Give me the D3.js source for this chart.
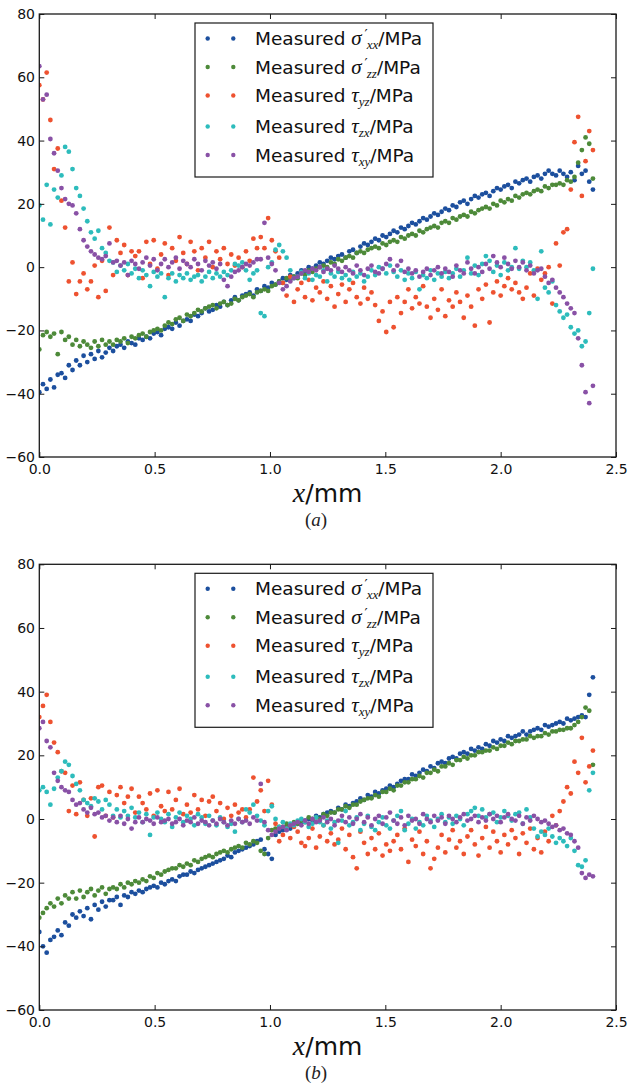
<!DOCTYPE html>
<html><head><meta charset="utf-8">
<script src="https://cdn.jsdelivr.net/npm/d3@7"></script>
<style>body{margin:0;background:#fff;} svg{display:block;}</style>
</head><body>
<svg id="chart" width="628" height="1088"></svg>
<script>
// Sample positions along x (mm)
const positions = [
0,0.016,0.032,0.048,0.064,0.08,0.096,0.112,0.128,0.144,
0.16,0.176,0.192,0.208,0.224,0.24,0.256,0.272,0.288,0.304,
0.32,0.336,0.352,0.368,0.384,0.4,0.416,0.432,0.448,0.464,
0.48,0.496,0.512,0.528,0.544,0.56,0.576,0.592,0.608,0.624,
0.64,0.656,0.672,0.688,0.704,0.72,0.736,0.752,0.768,0.784,
0.8,0.816,0.832,0.848,0.864,0.88,0.896,0.912,0.928,0.944,
0.96,0.976,0.992,1.008,1.024,1.04,1.056,1.072,1.088,1.104,
1.12,1.136,1.152,1.168,1.184,1.2,1.216,1.232,1.248,1.264,
1.28,1.296,1.312,1.328,1.344,1.36,1.376,1.392,1.408,1.424,
1.44,1.456,1.472,1.488,1.504,1.52,1.536,1.552,1.568,1.584,
1.6,1.616,1.632,1.648,1.664,1.68,1.696,1.712,1.728,1.744,
1.76,1.776,1.792,1.808,1.824,1.84,1.856,1.872,1.888,1.904,
1.92,1.936,1.952,1.968,1.984,2.0,2.016,2.032,2.048,2.064,
2.08,2.096,2.112,2.128,2.144,2.16,2.176,2.192,2.208,2.224,
2.24,2.256,2.272,2.288,2.304,2.32,2.336,2.352,2.368,2.384,
2.4];

// ---- Panel (a) ----
const A_sxx = [
-39.5,-37,-38.5,-35.5,-38,-34,-33.5,-35,-31,-32.5,
-29.5,-31,-28,-30,-27.5,-29,-26.5,-28.5,-27,-25.5,
-26.5,-25,-24.5,-25.5,-23.5,-24,-24.5,-22.5,-23,-22,
-22.5,-21,-20.5,-21.5,-19.5,-19,-19.5,-17.5,-18.5,-17,
-16.5,-17,-15,-15.5,-14.5,-13,-14,-13.5,-12,-12.5,
-11,-12,-10.5,-9.5,-10.5,-9,-8.5,-8,-9,-7,
-7.5,-6,-6.5,-5,-5.5,-4.5,-3.5,-4,-2.5,-3,
-2,-1,-1.5,0,-0.5,0.5,1.5,1,2,3,
2.5,3.5,4,3,5,5.5,4.5,6.5,7.5,7,
8,9,8.5,10,9.5,10.5,11.5,11,12.5,12,
13,14,13.5,14.5,15.5,15,16,17,16.5,17.5,
18.5,18,19.5,19,20.5,21,20,21.5,22.5,22,
23,23.5,22.5,24,25,24.5,25.5,26,25,27,
26.5,27.5,28,27,28.5,29,28,29.5,30.5,29.5,
29,30.5,29.5,28.5,30,27.5,32,29.5,30.5,27,
24.5];
const A_szz = [
-26,-21.5,-20.5,-22,-21,-27.5,-20.5,-23,-22,-24.5,
-23,-25,-23.5,-24.5,-25.5,-23.5,-25,-23,-24.5,-23.5,
-24.5,-23,-23.5,-22.5,-24,-22,-22.5,-21.5,-21,-22,
-20.5,-20,-19.5,-20,-18.5,-17.5,-18,-16.5,-16,-17,
-15,-15.5,-14.5,-13.5,-14,-13,-12.5,-12,-13,-11.5,
-11,-12,-11.5,-10,-10.5,-9.5,-9,-8.5,-9.5,-8,
-7.5,-7,-7.5,-6,-5.5,-4.5,-5,-3.5,-4,-3,
-3.5,-2,-2.5,-1,-1.5,-0.5,0,0.5,0,1.5,
1,2.5,2,3,3.5,3,4.5,5,4.5,5.5,
6,6.5,6,7.5,7,8,8.5,8,9.5,9,
10,10.5,10,11.5,11,12,12.5,13,12.5,14,
14.5,14,15.5,15,16,16.5,16,17.5,17,18,
18.5,19,18.5,20,19.5,21,20.5,21.5,21,22.5,
22,23,23.5,23,24,24.5,24,25.5,25,26,
26,26.5,26,27.5,27,28.5,33,37,41,39,
28];
const A_tyz = [
57.5,53,61.5,46.5,31,37.5,21,12.5,-4.5,1.5,
-8.5,-4.5,-2,-7,-4.5,0.5,-9.5,2,-7.5,12.5,
-2.5,8.5,4.5,7,-2.5,5,3.5,5,-3.5,8,
1,8.5,-0.5,4,7.5,-2.5,6,2,9.5,4.5,
1,8,5,-1,6,3,8,0,5,2.5,
6,1,4,0.5,3,0,5,2,9,6,
9.5,6,15.5,8.5,5,3,-5,-9,-3,-11,
-7,-5,-9.5,-4,-10.5,-6.5,-8,-4.5,-10,-6,
-12.5,-8.5,-5.5,-11,-7,-5,-9.5,-11.5,-6.5,-10,
-8,-12,-17,-14,-20.5,-11,-19,-9.5,-14.5,-11,
-7,-13,-9.5,-11.5,-6,-12.5,-16,-10,-13.5,-7,
-15.5,-10.5,-12.5,-8,-11,-16,-9,-12.5,-18.5,-7,
-10,-5.5,-17.5,-8,-4.5,-9,-6,-3.5,-7,-5,
-8,-10,-6.5,-2,-9,-0.5,-4,-2,0,-11.5,
7.5,0.5,11,12,24.5,39.5,47.5,22.5,33.5,43,
37];
const A_tzx = [
19.5,15,26,13.5,24.5,22,29,38,36.5,31,
25,22.5,18.5,14.5,11,9,11.5,6,4.5,2,
1.5,-1.5,0.5,-1,1,-2,-0.5,-3.5,-1,-2.5,
-6,-1.5,-3,-2,-9.5,-3.5,-2,-4.5,-2.5,-3.5,
-2,-4,-3,-2.5,-4.5,-3,-1.5,-3.5,-2,-3,
-1.5,-2.5,-1,1,0.5,1.5,-1,-4,-2,-1,
-14.5,-15.5,0,1.5,5.5,7,5,3,-1,-3.5,
-3,-1.5,-3.5,-2,-4,-2.5,-3,-1,-4.5,-2,
-3,-1.5,-3.5,-2.5,-4,-1.5,-3,-2,-4.5,-3,
-1,-2.5,0,-0.5,-2,0.5,-1.5,-3,-1,-4,
-2,-3.5,-1.5,-7,-2.5,-3.5,-1,-4,-2,-3,
-1.5,-3.5,-2,-0.5,-3,-1,3,-2,0.5,-2.5,
1,3.5,2,-1.5,0.5,-2.5,1.5,-1,0,6,
-0.5,2,0,1.5,-1,-10,5,-6.5,-8,-4.5,
-12,-14,-16,-15,-19,-21,-20,-25,-23.5,-14.5,
-0.5];
const A_txy = [
63.5,53,54.5,40.5,36,30.5,25,21.5,20,19.5,
17,12,8.5,6.5,5,4,3,2.5,3.5,7.5,
1.5,2,0.5,1.5,-2.5,2,1,-0.5,1.5,3,
0.5,2.5,-1,1,2.5,0,1.5,3,-0.5,2,
1,0,2.5,1,-1,2,0.5,1.5,-0.5,1,
-4,-6,-3,-1.5,-1,0,1,0.5,1.5,2.5,
2.5,14,3,1,-1,-5,-7,-6,-4.5,-3.5,
-3,-2,-1,-1.5,-0.5,-1,0,-1.5,-0.5,-1,
0.5,-0.5,-1.5,0,-1,-2,0.5,-1,-2.5,-0.5,
0.5,-1.5,-2,-0.5,1,2.5,-1,0.5,2,-1.5,
-0.5,-2,-1,-3,-1.5,-0.5,-2.5,-1,0,-2,
-0.5,-1.5,-3,0.5,-1,-2,1.5,-0.5,-2,0,
-1.5,1,-0.5,3.5,1.5,0,3,1,-0.5,2,
0,1.5,-1,0.5,-2,-1,-0.5,-3,-5,-4,
-6.5,-8,-9.5,-11.5,-13,-14.5,-22.5,-31,-39.5,-43,
-37.5];

// ---- Panel (b) ----
const B_sxx = [
-35.5,-40,-42,-38,-37,-35,-36.5,-32.5,-33.5,-30,
-31,-29,-30.5,-28,-31.5,-27,-28.5,-26,-27.5,-25.5,
-25.5,-24.5,-27,-24,-24.5,-23,-23.5,-22.5,-23,-22,
-21.5,-21,-21.5,-20,-20.5,-19.5,-19,-19.5,-18,-17.5,
-17.5,-16.5,-17,-16,-15.5,-15,-14.5,-14,-13.5,-13,
-12.5,-11.5,-12,-10.5,-10,-9.5,-9,-8.5,-8,-7,
-6.5,-9.5,-11,-12.5,-5,-4,-3.5,-2.5,-3,-1.5,
-1.5,-1,-0.5,0,-0.5,1,0.5,1.5,2,2.5,
2,3.5,3,4.5,4,5,5.5,6.5,6,7.5,
7,8.5,8,9,9.5,10.5,10,11,12,12.5,
12.5,14,13.5,14.5,15.5,15,16.5,16,17.5,18,
17.5,19,19.5,19,20.5,21,20.5,22,21.5,22.5,
22,23.5,23,24.5,24,25,24.5,26,25.5,26,
26.5,27.5,26.5,27.5,28,28.5,28,29.5,29,29.5,
30,30.5,30,31.5,31,31.5,32,32.5,32,39,
44.5];
const B_szz = [
-31,-29.5,-28,-26.5,-27.5,-25,-26.5,-24,-25,-23,
-25,-22.5,-24.5,-23,-22,-24,-22.5,-21.5,-23.5,-22,
-21.5,-22,-20.5,-21.5,-20,-20.5,-19.5,-20,-19,-19.5,
-18,-18.5,-17,-17.5,-16.5,-16,-15.5,-15.5,-14.5,-15,
-14,-14.5,-13,-13.5,-12.5,-12,-11.5,-12,-11,-10.5,
-10,-10.5,-9.5,-9,-8.5,-9,-7.5,-8,-7,-7.5,
-10,-11,-6,-3.5,-3,-2.5,-2.5,-1.5,-2,-1,
-1.5,-0.5,-1,0.5,0,0.5,0,1.5,1,2,
2,3,3,4,3.5,4.5,4.5,5.5,6,6.5,
6.5,7.5,7,8.5,8.5,9.5,9,10.5,10.5,11.5,
11.5,12.5,12.5,13.5,13,14.5,14.5,15.5,15,16.5,
16.5,17.5,17,18.5,18.5,19.5,19,20,20,21,
21,21.5,21.5,22.5,22,23,23,24,23.5,24.5,
24.5,25,25,26,25.5,26,26,27,26.5,27.5,
27.5,28,28,28.5,28.5,29.5,30.5,32,35,34,
17];
const B_tyz = [
32,35.5,39,30.5,24,21,15,14.5,2.5,10.5,
1.5,11.5,6,1,6.5,-5.5,10,10.5,1,8.5,
0.5,7.5,10,5,7,9.5,2,7,5,3,
8,1,9,4,2.5,8.5,3,6,9.5,1.5,
4.5,2,7.5,3,6,1,5.5,7,2.5,5,
0,3.5,1,4.5,2,3,0.5,3,13,5.5,
9,2.5,12,4.5,-1.5,-7,-5,-3,-6,-2.5,
-4,-7.5,-8.5,-6,-3,-9,-5.5,-2,-7,-4.5,
-8,-6.5,-3,-9.5,-5,-12,-15.5,-4,-7.5,-11,
-6,-9.5,-4.5,-11.5,-8,-10,-7,-5,-9.5,-3,
-13.5,-6.5,-8.5,-4,-11,-7,-15.5,-12.5,-9,-5,
-10.5,-6.5,-3.5,-9,-7,-11,-5.5,-3.5,-8,-11.5,
-6,-2.5,-9,-4,-7,-10.5,-5,-8,-3.5,-6,
-11,-4.5,-7.5,-3,-9.5,-6,-10.5,-4,-7,1,
-2,2.5,5.5,10,8,18,14.5,25.5,11.5,16.5,
21.5];
const B_tzx = [
9,10,8.5,4.5,9.5,13,15,18,17,13.5,
11,9,6,5,4,6.5,5.5,3,6,4.5,
1,3,0.5,2.5,1,3.5,0.5,2,-1,1.5,
-5,0.5,2,0,-1,1.5,-2.5,0.5,2,-1,
1,0,-2,1.5,0.5,-1.5,1,-0.5,-2,0.5,
-1,-2.5,-1.5,-4,0,-1,3,2,4.5,1,
-0.5,-2,2.5,4,0,-2.5,-1,-3,-1.5,-2,
-0.5,0,-1,-2.5,-1.5,0.5,-1,-2,-0.5,-3,
-1,-7.5,-0.5,2.5,-2,-1,0.5,-3.5,-1.5,1,
-2.5,-3.5,-1,0.5,-2,-3,-0.5,1,2.5,-3.5,
-1.5,0,-3,-1,-2,1,-0.5,-2.5,0,1.5,
-1,0.5,-1.5,1,0,-2,1.5,2.5,3.5,1,
3,0.5,1.5,2,-1,0.5,2.5,1,-0.5,1.5,
2,-1.5,3,0.5,-3,-5.5,-4,-5,-3,-5.5,
-7.5,-6,-7,-8.5,-6,-10,-14.5,-15,-13,9,
14.5];
const B_txy = [
28.5,30.5,24.5,22.5,14.5,12,10,9,8.5,6,
4.5,5,3,2,3.5,1.5,2,0.5,1,-0.5,
0.5,-1,1,-1.5,0,-3,-1,0.5,-1,0,
-0.5,-1.5,0.5,-1,-0.5,0,-1.5,-1,0,-2,
-0.5,-1,0.5,-1.5,-0.5,-1,-2,-0.5,-1.5,0,
-1,-2,-0.5,-1.5,0,-1,-0.5,-1.5,0.5,-0.5,
11,-1,-3.5,-5,-4,-3,-2.5,-3.5,-2,-1.5,
-1,-2,-0.5,-1.5,0,-1,-0.5,0.5,-1,0,
-2,-0.5,1,-1,0.5,-1.5,0,1.5,-1,0.5,
-2,0,1,-1.5,0.5,2,-0.5,-1.5,0.5,-2,
1,-0.5,0,-1.5,1.5,0,-1,1,-0.5,0.5,
-1.5,1,0,-1,0.5,1.5,-0.5,0,1,-1,
0.5,-0.5,1.5,0,1,-1,0.5,1.5,0,-0.5,
1,-1.5,0.5,-0.5,1,0,-1,-0.5,-1.5,-2.5,
-2,-3.5,-3,-4.5,-5,-7,-9,-17,-18.5,-17.5,
-18];

const xTicks = [0, 0.5, 1.0, 1.5, 2.0, 2.5];
const xTickLabels = ["0.0","0.5","1.0","1.5","2.0","2.5"];
const yTicks = [-60,-40,-20,0,20,40,60,80];
const yTickLabels = ["\u221260","\u221240","\u221220","0","20","40","60","80"];
const legendSymbols = ["\u03C3","\u03C3","\u03C4","\u03C4","\u03C4"];
const legendPrimes = [true,true,false,false,false];
const legendSubs = ["xx","zz","yz","zx","xy"];
const captionLetters = ["a","b"];

const colors = ["#1c4f9e","#4d8a39","#ee5230","#2dbcbc","#8951a6"];
const svg = d3.select("#chart");
const left = 39.3, right = 616;
const x = d3.scaleLinear().domain([0, 2.5]).range([left, right]);

const panels = [
  {top: 14, bottom: 457, data: [A_sxx, A_szz, A_tyz, A_tzx, A_txy]},
  {top: 564.3, bottom: 1010, data: [B_sxx, B_szz, B_tyz, B_tzx, B_txy]}
];

const defs = svg.append("defs");

function styleAxis(g) {
  g.select(".domain").remove();
  g.selectAll(".tick line").attr("stroke", "#1a1a1a").attr("stroke-width", 1);
  g.selectAll(".tick text").attr("fill", "#111").attr("font-family", "DejaVu Sans").attr("font-size", 14);
  g.attr("font-family", null).attr("font-size", null);
}

panels.forEach((p, pi) => {
  const y = d3.scaleLinear().domain([-60, 80]).range([p.bottom, p.top]);
  const g = svg.append("g");

  defs.append("clipPath").attr("id", "clip" + pi)
    .append("rect").attr("x", left).attr("y", p.top)
    .attr("width", right - left).attr("height", p.bottom - p.top);

  const plot = g.append("g").attr("clip-path", "url(#clip" + pi + ")");
  p.data.forEach((vals, si) => {
    plot.append("g").selectAll("circle").data(vals).join("circle")
      .attr("cx", (d, i) => x(positions[i]))
      .attr("cy", d => y(d))
      .attr("r", 2.4)
      .attr("fill", colors[si]);
  });

  // axes (ticks pointing inward on all four sides)
  g.append("g").attr("transform", `translate(0,${p.bottom})`)
    .call(d3.axisBottom(x).tickValues(xTicks).tickFormat((d, i) => xTickLabels[i])
      .tickSizeInner(-5).tickSizeOuter(0).tickPadding(7))
    .call(styleAxis);
  g.append("g").attr("transform", `translate(0,${p.top})`)
    .call(d3.axisTop(x).tickValues(xTicks).tickFormat("")
      .tickSizeInner(-5).tickSizeOuter(0))
    .call(styleAxis);
  g.append("g").attr("transform", `translate(${left},0)`)
    .call(d3.axisLeft(y).tickValues(yTicks).tickFormat((d, i) => yTickLabels[i])
      .tickSizeInner(-5).tickSizeOuter(0).tickPadding(4.3))
    .call(styleAxis);
  g.append("g").attr("transform", `translate(${right},0)`)
    .call(d3.axisRight(y).tickValues(yTicks).tickFormat("")
      .tickSizeInner(-5).tickSizeOuter(0))
    .call(styleAxis);

  g.append("rect").attr("x", left).attr("y", p.top)
    .attr("width", right - left).attr("height", p.bottom - p.top)
    .attr("fill", "none").attr("stroke", "#1a1a1a").attr("stroke-width", 1.3);

  // legend
  const lg = g.append("g");
  lg.append("rect").attr("x", 195).attr("y", p.top + 9)
    .attr("width", 238).attr("height", 154)
    .attr("fill", "#fff").attr("stroke", "#1a1a1a").attr("stroke-width", 1.2);
  const rowOff = [24.5, 53, 81.5, 112.5, 141];
  legendSubs.forEach((sub, k) => {
    const ry = p.top + rowOff[k];
    [207.7, 233.3].forEach(mx => lg.append("circle").attr("cx", mx).attr("cy", ry).attr("r", 2.2).attr("fill", colors[k]));
    const t = lg.append("text").attr("x", 255).attr("y", ry + 6.5)
      .attr("font-family", "DejaVu Sans").attr("font-size", 18.5).attr("fill", "#111");
    t.append("tspan").text("Measured ");
    t.append("tspan").attr("font-family", "Liberation Serif").attr("font-style", "italic")
      .attr("font-size", 21).text(legendSymbols[k]);
    if (legendPrimes[k]) {
      t.append("tspan").attr("font-family", "DejaVu Sans").attr("font-size", 14)
        .attr("dx", 3).attr("dy", -6).text("\u2032");
      t.append("tspan").attr("font-family", "Liberation Serif").attr("font-style", "italic")
        .attr("font-size", 13).attr("dy", 10).attr("dx", -1).text(sub);
    } else {
      t.append("tspan").attr("font-family", "Liberation Serif").attr("font-style", "italic")
        .attr("font-size", 13).attr("dy", 4).text(sub);
    }
    t.append("tspan").attr("dy", -4).text("/MPa");
  });

  // x axis label
  const xl = g.append("text").attr("x", (left + right) / 2).attr("y", p.bottom + 45)
    .attr("text-anchor", "middle").attr("fill", "#111");
  xl.append("tspan").attr("font-family", "Liberation Serif").attr("font-style", "italic")
    .attr("font-size", 28).text("x");
  xl.append("tspan").attr("font-family", "DejaVu Sans").attr("font-size", 25).text("/mm");

  // caption
  const cap = g.append("text").attr("x", 316).attr("y", p.bottom + 69)
    .attr("text-anchor", "middle").attr("font-family", "Liberation Serif")
    .attr("font-size", 19).attr("fill", "#222");
  cap.append("tspan").text("(");
  cap.append("tspan").attr("font-style", "italic").text(captionLetters[pi]);
  cap.append("tspan").text(")");
});
</script>
</body></html>
